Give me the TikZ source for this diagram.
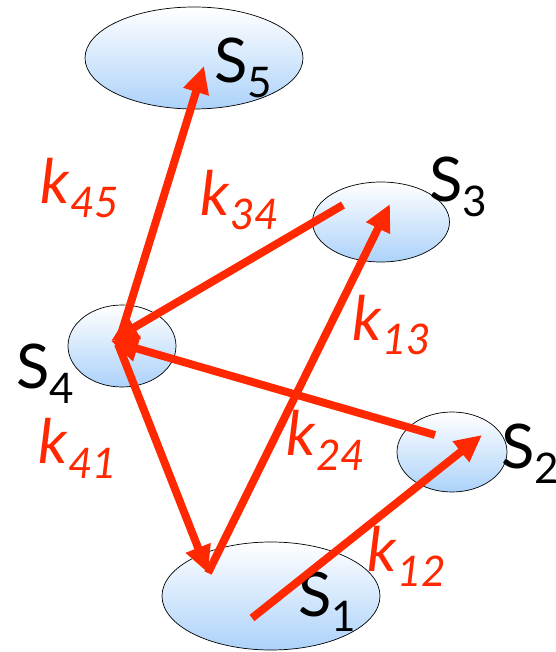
\documentclass[tikz,border=0pt]{standalone}
\usepackage{fontspec}
\setmainfont{Lato}
\usetikzlibrary{shapes.geometric,arrows.meta}
\definecolor{fluxred}{RGB}{255,40,0}
\definecolor{poolblue}{RGB}{172,210,250}
\newcommand{\poolname}[1]{S\raisebox{-8.5pt}{\fontsize{24}{26}\selectfont #1}}
\newcommand{\ratename}[1]{\textit{k\raisebox{-8.5pt}{\fontsize{24}{26}\selectfont #1}}}

\tikzset{
  pool/.style={ellipse,draw=black,thin,inner sep=0pt,top color=white,bottom color=poolblue},
  flux/.style={fluxred,line width=4.5pt,-{Triangle[length=0.54cm,width=0.5cm]}},
  ratelbl/.style={fluxred,font=\fontsize{35}{40}\selectfont},
  poollbl/.style={font=\fontsize{35}{40}\selectfont}
}

\begin{document}
\begin{tikzpicture}
\useasboundingbox (0,0) rectangle (11.12,13.04);
%\draw[help lines] (0,0) grid (11,13);

% pools
\node[pool,minimum width=4.36cm,minimum height=2.04cm] (s5) at (3.88,11.88) {};
\node[pool,minimum width=2.16cm,minimum height=1.64cm] (s4) at (2.44,6.12) {};
\node[pool,minimum width=2.74cm,minimum height=1.60cm] (s3) at (7.62,8.60) {};
\node[pool,minimum width=2.20cm,minimum height=1.60cm] (s2) at (9.04,4.00) {};
\node[pool,minimum width=4.36cm,minimum height=2.16cm] (s1) at (5.42,1.12) {};

\node[poollbl] (n5) at (4.86,11.68) {\poolname{5}};
\node[poollbl] (n3) at (9.16,9.30) {\poolname{3}};
\node[poollbl] (n4) at (0.90,5.56) {\poolname{4}};
\node[poollbl] (n2) at (10.60,3.96) {\poolname{2}};
\node[poollbl] (n1) at (6.54,1.00) {\poolname{1}};

% arrow ends
\coordinate (a4) at (2.36,6.16);
\coordinate (b4) at (2.22,6.22);
\coordinate (a5) at (4.08,11.72);
\coordinate (a1) at (4.16,1.58);
\coordinate (b1) at (5.04,0.68);
\coordinate (a3) at (6.86,8.94);
\coordinate (b3) at (7.80,8.96);
\coordinate (a2) at (8.70,4.34);
\coordinate (b2) at (9.64,4.34);

\draw[flux] (a4) -- (a5);
\draw[flux] (a4) -- (a1);
\draw[flux] (a1) -- (b3);
\draw[flux] (a3) -- (b4);
\draw[flux] (a2) -- (b4);
\draw[flux] (b1) -- (b2);

% rates
\node[ratelbl] (k45) at (1.60,9.28) {\ratename{45}};
\node[ratelbl] (k34) at (4.80,9.04) {\ratename{34}};
\node[ratelbl] (k13) at (7.84,6.54) {\ratename{13}};
\node[ratelbl] (k24) at (6.52,4.24) {\ratename{24}};
\node[ratelbl] (k41) at (1.56,4.08) {\ratename{41}};
\node[ratelbl] (k12) at (8.14,1.92) {\ratename{12}};
\end{tikzpicture}
\end{document}
